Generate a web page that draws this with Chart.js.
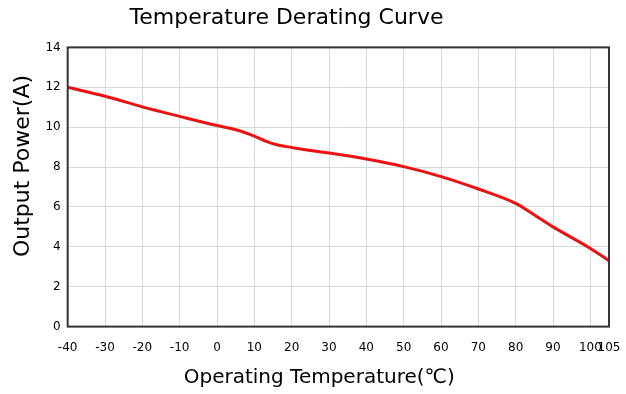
<!DOCTYPE html>
<html>
<head>
<meta charset="utf-8">
<script src="https://cdn.jsdelivr.net/npm/chart.js@4/dist/chart.umd.min.js"></script>
<style>
  html, body { margin: 0; padding: 0; background: #fff; }
  #wrap { width: 626px; height: 394px; }
</style>
</head>
<body>
<div id="wrap"><canvas id="derating" width="626" height="394"></canvas></div>
<script>
// 데이터
const temps = [-40, -30, -20, -10, 0, 4, 7, 10, 13, 16, 20, 25, 30, 40, 50, 60, 70, 80, 85, 90, 100, 105]
const power = [12.0, 11.55, 11.02, 10.54, 10.08, 9.92, 9.76, 9.55, 9.3, 9.12, 8.98, 8.83, 8.7, 8.4, 8.02, 7.52, 6.9, 6.18, 5.6, 5.0, 3.92, 3.3]
const xTicks = [-40, -30, -20, -10, 0, 10, 20, 30, 40, 50, 60, 70, 80, 90, 100, 105]
const yTicks = [0, 2, 4, 6, 8, 10, 12, 14]

const fontFam = '"DejaVu Sans", sans-serif'
const nb = n => '\u00a0'.repeat(n)

// 플롯 테두리 (위/오른쪽 포함)
const frame = {
  id: 'frame',
  afterDatasetsDraw(chart) {
    const a = chart.chartArea
    const ctx = chart.ctx
    ctx.save()
    ctx.strokeStyle = '#333'
    ctx.lineWidth = 2
    ctx.strokeRect(a.left, a.top, a.right - a.left, a.bottom - a.top)
    ctx.restore()
  }
}

const config = {
  type: 'line',
  data: {
    datasets: [{
      data: temps.map((t, i) => ({ x: t, y: power[i] })),
      borderColor: '#ee1111',
      borderWidth: 3,
      pointRadius: 0,
      fill: false,
      cubicInterpolationMode: 'monotone'
    }]
  },
  options: {
    responsive: false,
    animation: false,
    layout: { padding: { left: 6, right: 17, top: 0, bottom: 4 } },
    plugins: {
      legend: { display: false },
      tooltip: { enabled: false },
      title: {
        display: true,
        // 뒤쪽 공백으로 제목을 살짝 왼쪽으로
        text: 'Temperature Derating Curve' + nb(6),
        color: '#000',
        font: { family: fontFam, size: 22, weight: 'normal' },
        padding: { top: 5, bottom: 16 }
      }
    },
    scales: {
      x: {
        type: 'linear',
        min: -40,
        max: 105,
        afterBuildTicks: axis => { axis.ticks = xTicks.map(v => ({ value: v })) },
        ticks: { color: '#000', font: { family: fontFam, size: 12 }, padding: 0, maxRotation: 0, autoSkip: false },
        // 눈금선은 투명, 라벨 간격용
        grid: { color: '#d8d8d8', lineWidth: 1, drawTicks: true, tickLength: 14, tickColor: 'rgba(0,0,0,0)' },
        border: { display: false },
        title: { display: true, text: 'Operating Temperature(℃)' + nb(6), color: '#000', font: { family: fontFam, size: 20 }, padding: { top: 11, bottom: 0 } }
      },
      y: {
        min: 0,
        max: 14,
        afterBuildTicks: axis => { axis.ticks = yTicks.map(v => ({ value: v })) },
        ticks: { color: '#000', font: { family: fontFam, size: 12 }, padding: 7 },
        grid: { color: '#d8d8d8', lineWidth: 1, drawTicks: false },
        border: { display: false },
        title: { display: true, text: nb(6) + 'Output Power(A)', color: '#000', font: { family: fontFam, size: 22 }, padding: { top: 4, bottom: 2 } }
      }
    }
  },
  plugins: [frame]
}

let derating = new Chart(document.querySelector('#derating'), config)
</script>
</body>
</html>
